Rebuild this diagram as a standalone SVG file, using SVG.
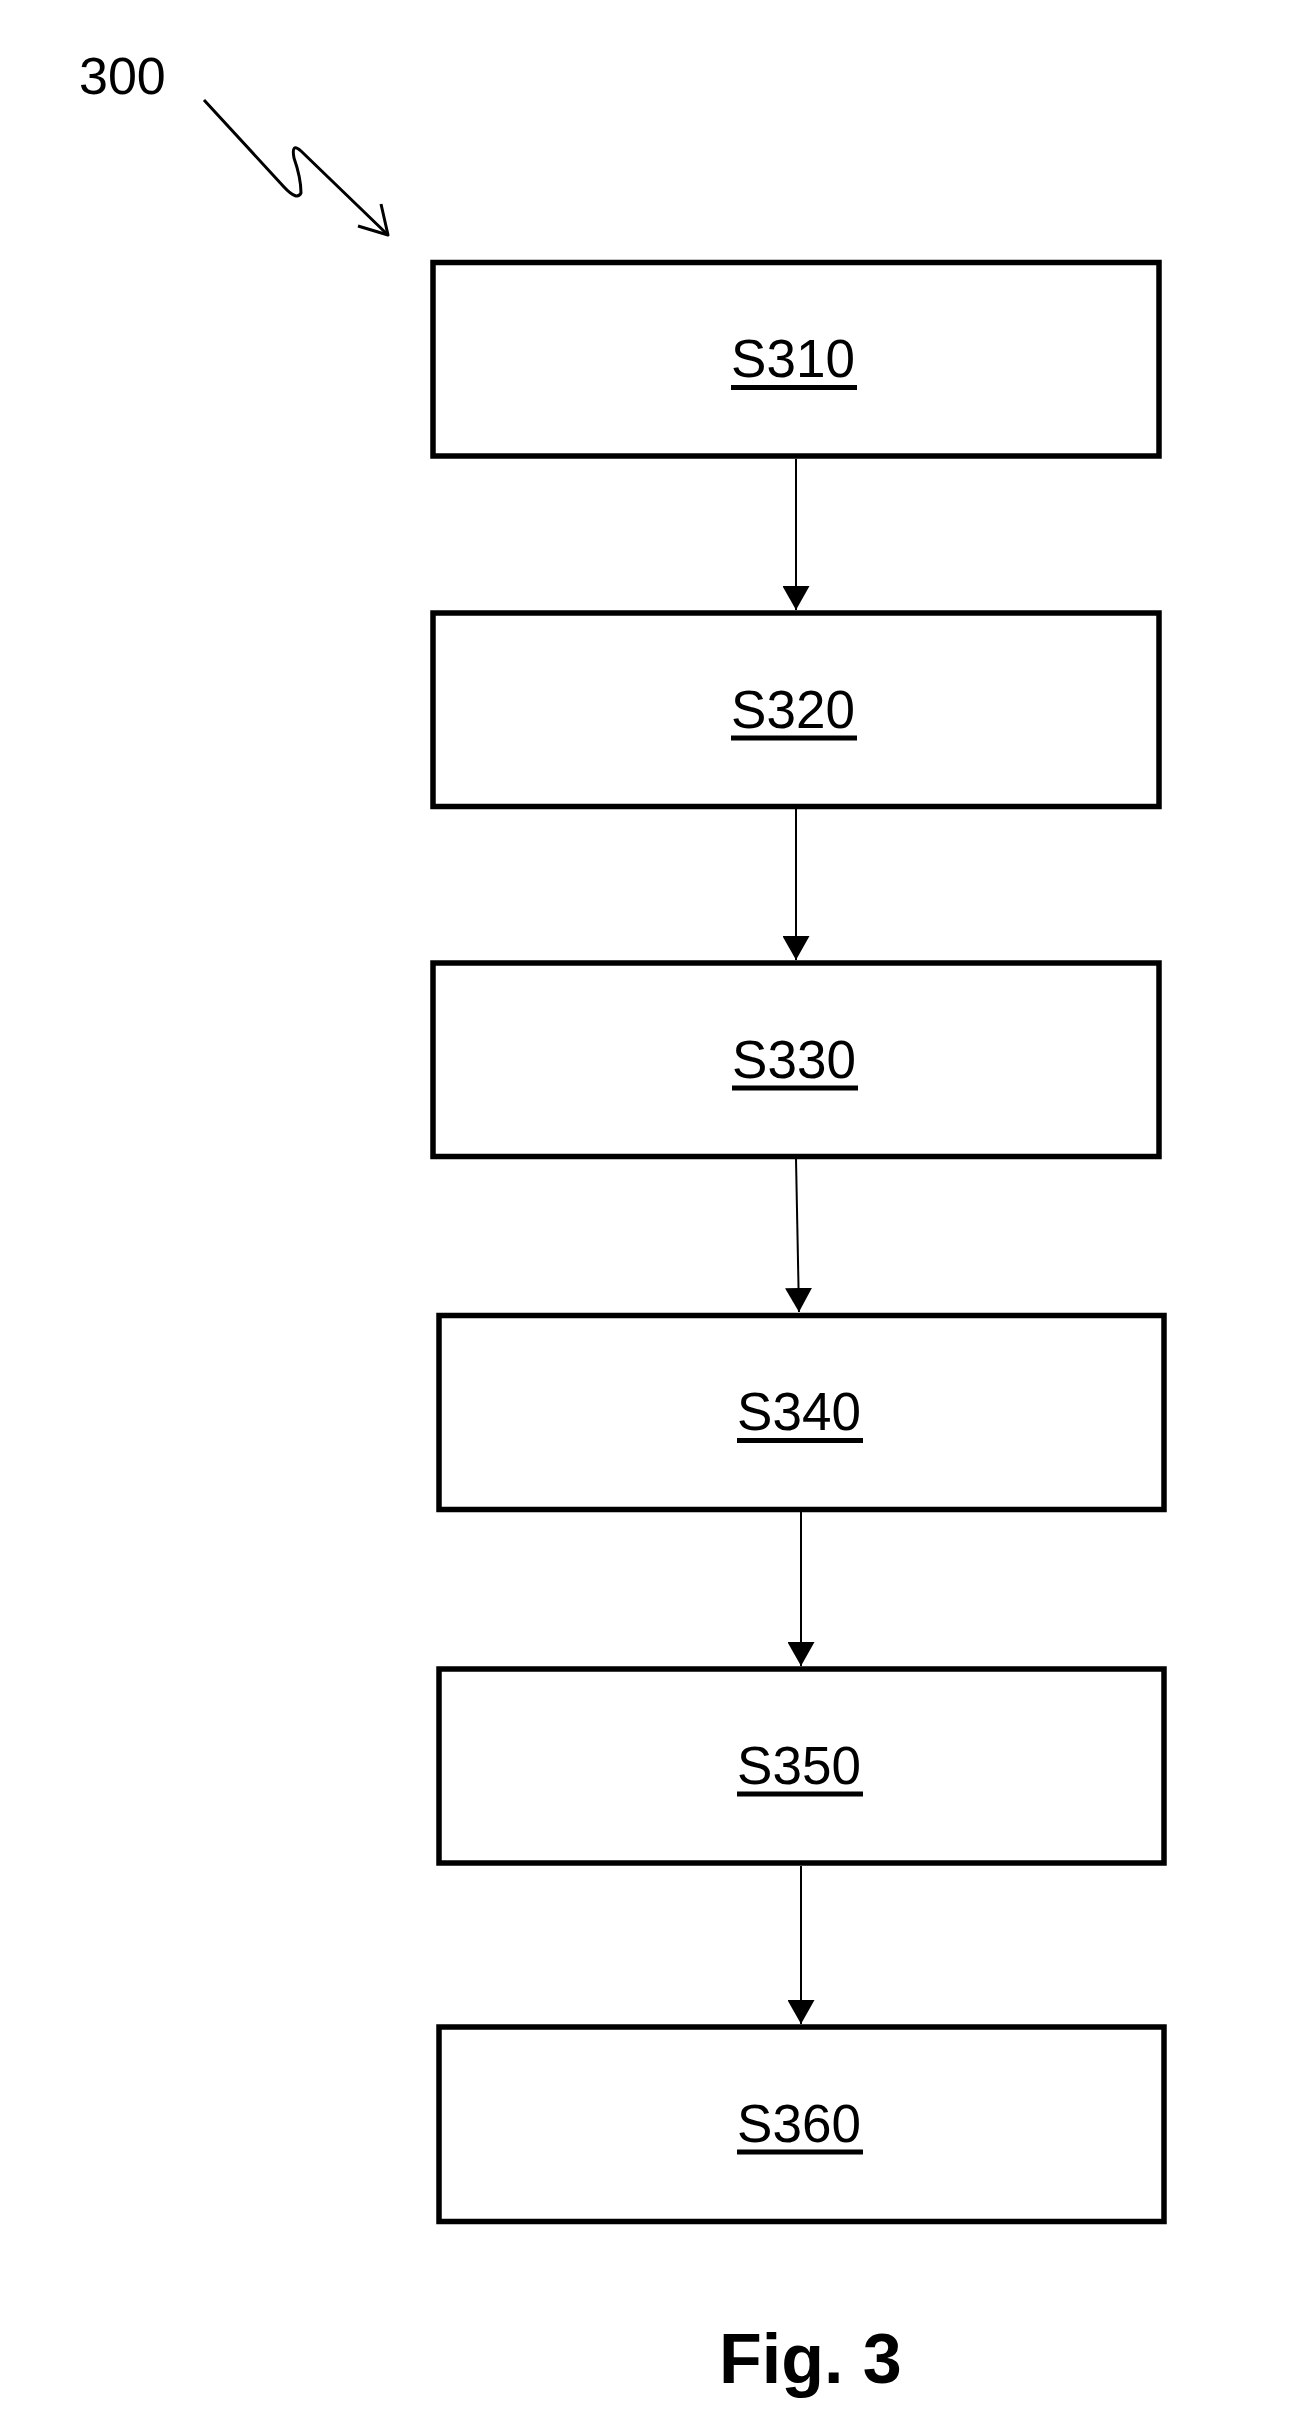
<svg xmlns="http://www.w3.org/2000/svg" width="1307" height="2427" viewBox="0 0 1307 2427">
  <style>
    .box { fill: #ffffff; stroke: #000000; stroke-width: 5.5; }
    .lbl { font-family: "Liberation Sans", Arial, sans-serif; font-size: 53px; fill: #000000; text-anchor: middle; }
    .ul { stroke: #000000; stroke-width: 5; }
    .conn { stroke: #000000; stroke-width: 2; fill: none; }
    .squig { stroke: #000000; stroke-width: 3; fill: none; stroke-linejoin: round; }
    .ref { font-family: "Liberation Sans", Arial, sans-serif; font-size: 52px; fill: #000000; }
    .fig { font-family: "Liberation Sans", Arial, sans-serif; font-size: 70px; font-weight: bold; fill: #000000; }
  </style>
  <defs>
    <marker id="ah" markerUnits="userSpaceOnUse" markerWidth="24" markerHeight="27" refX="24" refY="13.5" orient="auto">
      <path d="M0,0 L24,13.5 L0,27 Z" fill="#000000"/>
    </marker>
  </defs>
  <rect width="1307" height="2427" fill="#ffffff"/>

  <g id="label-300">
    <text class="ref" x="79" y="94">300</text>
    <path class="squig" d="M204,100 L284,187 Q297,201 301,193 Q301,178 294,158 Q291,142 301,151 L388,235"/>
    <path class="squig" d="M358,226 L388,235 L381,204"/>
  </g>

  <g id="connectors">
    <line class="conn" x1="796" y1="459" x2="796" y2="610" marker-end="url(#ah)"/>
    <line class="conn" x1="796" y1="809" x2="796" y2="960" marker-end="url(#ah)"/>
    <line class="conn" x1="796" y1="1159" x2="799" y2="1312" marker-end="url(#ah)"/>
    <line class="conn" x1="801" y1="1512" x2="801" y2="1666" marker-end="url(#ah)"/>
    <line class="conn" x1="801" y1="1866" x2="801" y2="2024" marker-end="url(#ah)"/>
  </g>

  <g id="S310">
    <rect class="box" x="433" y="262.5" width="726" height="193.5"/>
    <text class="lbl" x="793" y="377">S310</text>
    <line class="ul" x1="731" y1="387.5" x2="857" y2="387.5"/>
  </g>
  <g id="S320">
    <rect class="box" x="433" y="613" width="726" height="193.5"/>
    <text class="lbl" x="793" y="727.5">S320</text>
    <line class="ul" x1="731" y1="738" x2="857" y2="738"/>
  </g>
  <g id="S330">
    <rect class="box" x="433" y="963" width="726" height="193.5"/>
    <text class="lbl" x="794" y="1077.5">S330</text>
    <line class="ul" x1="732" y1="1088" x2="858" y2="1088"/>
  </g>
  <g id="S340">
    <rect class="box" x="439" y="1315.5" width="725" height="194"/>
    <text class="lbl" x="799" y="1430">S340</text>
    <line class="ul" x1="737" y1="1440.5" x2="863" y2="1440.5"/>
  </g>
  <g id="S350">
    <rect class="box" x="439" y="1669" width="725" height="194"/>
    <text class="lbl" x="799" y="1783.5">S350</text>
    <line class="ul" x1="737" y1="1794" x2="863" y2="1794"/>
  </g>
  <g id="S360">
    <rect class="box" x="439" y="2027" width="725" height="194.5"/>
    <text class="lbl" x="799" y="2141.5">S360</text>
    <line class="ul" x1="737" y1="2152" x2="863" y2="2152"/>
  </g>

  <text class="fig" x="719" y="2383">Fig. 3</text>
</svg>
